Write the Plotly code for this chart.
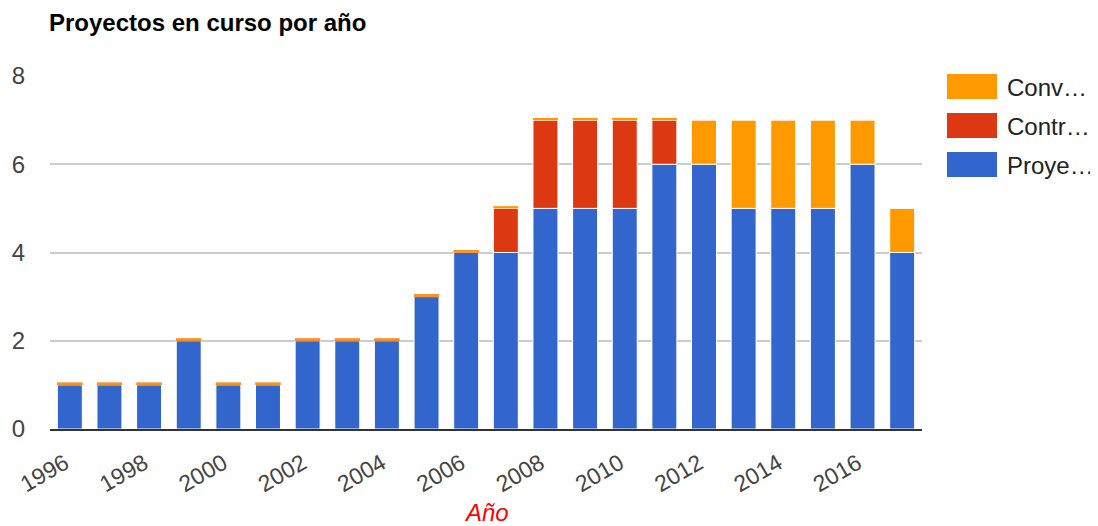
import plotly.graph_objects as go

years = list(range(1996, 2018))
proyectos = [1, 1, 1, 2, 1, 1, 2, 2, 2, 3, 4, 4, 5, 5, 5, 6, 6, 5, 5, 5, 6, 4]
contratos = [0, 0, 0, 0, 0, 0, 0, 0, 0, 0, 0, 1, 2, 2, 2, 1, 0, 0, 0, 0, 0, 0]
convenios = [0, 0, 0, 0, 0, 0, 0, 0, 0, 0, 0, 0, 0, 0, 0, 0, 1, 2, 2, 2, 1, 1]
series_names = ["Proye…", "Contr…", "Conv…"]
colors = ["#3366cc", "#dc3912", "#ff9900"]
tick_years = list(range(1996, 2017, 2))

OFF = 8  # page body margin
W, H = 1098 - OFF, 526 - OFF
L, T = 50 - OFF, 76 - OFF
R = W - (922 - OFF)
B = H - (429 - OFF)
EPS = 0.05  # rendering height for zero-valued segments (Google Charts draws them as a thin line)

fig = go.Figure()
base = [0] * len(years)
for name, vals, col in zip(series_names, [proyectos, contratos, convenios], colors):
    heights = [v if v > 0 else EPS for v in vals]
    fig.add_trace(go.Bar(
        x=years, y=heights, base=list(base), name=name,
        marker=dict(color=col, line=dict(color="white", width=[1 if v > 0 else 0 for v in vals])),
        width=0.63, showlegend=False,
        customdata=vals, hovertemplate="%{x}: %{customdata}<extra>" + name + "</extra>",
    ))
    base = [b + v for b, v in zip(base, vals)]

pw = W - L - R
ph = H - T - B
def px(x):
    return (x - OFF - L) / pw
def py(y):
    return 1 - (y - OFF - T) / ph

shapes = []
annotations = []
legend_items = [("Conv…", colors[2], 74), ("Contr…", colors[1], 113), ("Proye…", colors[0], 152)]
for label, col, y0 in legend_items:
    shapes.append(dict(type="rect", xref="paper", yref="paper",
                       x0=px(947), x1=px(997), y0=py(y0 + 25), y1=py(y0),
                       fillcolor=col, line=dict(width=0)))
    annotations.append(dict(text=label, xref="paper", yref="paper",
                            x=px(1005), y=py(y0 + 13), xanchor="left", yanchor="middle",
                            showarrow=False, font=dict(size=24, color="#222222")))

annotations.append(dict(text="Año", xref="paper", yref="paper", x=0.5, y=0,
                        xanchor="center", yanchor="middle", yshift=-83, showarrow=False,
                        font=dict(size=24, color="#ff0000", style="italic")))

fig.update_layout(
    width=W, height=H,
    margin=dict(l=L, r=R, t=T, b=B, pad=0),
    paper_bgcolor="white", plot_bgcolor="white",
    barmode="overlay",
    font=dict(family="Liberation Sans, Arial, sans-serif", size=24, color="#444444"),
    title=dict(text="<b>Proyectos en curso por año</b>", xref="container", yref="container",
               x=(49 - OFF) / W, y=1 - (23 - OFF) / H, xanchor="left", yanchor="middle",
               font=dict(size=24, color="#000000")),
    xaxis=dict(range=[1995.5, 2017.5], tickmode="array", tickvals=tick_years,
               ticktext=[str(y) for y in tick_years], tickangle=-30,
               showgrid=False, zeroline=False, showline=True, linecolor="#333333",
               linewidth=2, layer="above traces", ticks="", automargin=False,
               ticklabelstandoff=10, ticklabelshift=-5,
               tickfont=dict(size=23, color="#444444")),
    yaxis=dict(range=[0, 8], tickvals=[0, 2, 4, 6, 8], showgrid=True, gridcolor="#cccccc",
               gridwidth=2, zeroline=False, showline=False, ticks="", automargin=False,
               ticklabelstandoff=24, tickfont=dict(size=24, color="#444444")),
    shapes=shapes, annotations=annotations,
    showlegend=False,
)

fig.write_html("out.html")
